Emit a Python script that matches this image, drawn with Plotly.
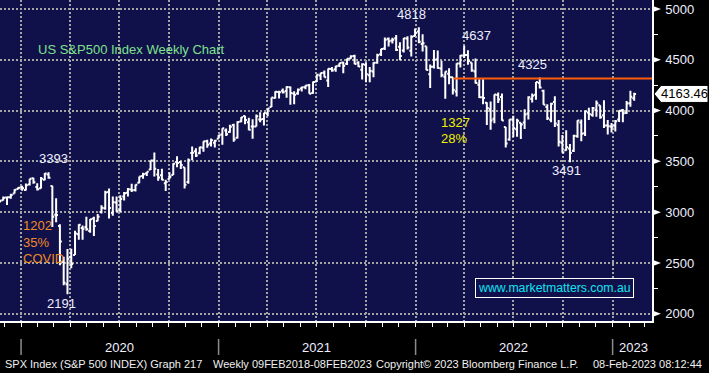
import pandas as pd
import plotly.graph_objects as go

# ---------------- data (weekly OHLC, week ending Friday) ----------------
first_week = "2019-11-22"

opens = [
    3123, 3117, 3144, 3146, 3183, 3227,
    3247, 3218, 3273, 3333, 3248, 3236, 3319, 3370, 3257, 2974, 2863, 2509, 2290, 2558, 2578, 2782, 2845, 2854,
    2815, 2937, 2914, 3001, 3038, 3199, 2994, 3094, 3018, 3155, 3191, 3224, 3219, 3289, 3356, 3380, 3419, 3508,
    3370, 3363, 3285, 3326, 3366, 3493, 3493, 3441, 3296, 3583, 3600, 3579, 3634, 3699, 3675, 3684,
    3723, 3764, 3803, 3788, 3857, 3732, 3892, 3947, 3885, 3842, 3844, 3913, 3916, 3969, 4034, 4124, 4182, 4194,
    4192, 4229, 4169, 4168, 4216, 4230, 4248, 4173, 4285, 4344, 4373, 4296, 4409, 4406, 4443, 4474, 4460, 4513,
    4536, 4474, 4402, 4450, 4348, 4385, 4471, 4554, 4610, 4707, 4689, 4712, 4628, 4592, 4710, 4588, 4734,
    4778, 4655, 4632, 4357, 4431, 4505, 4413, 4332, 4363, 4327, 4188, 4462, 4541, 4547, 4474, 4385, 4255, 4131,
    4077, 4013, 3920, 4153, 4134, 3838, 3715, 3913, 3815, 3880, 3883, 3972, 4113, 4155, 4270, 4195, 4034, 3910,
    4083, 3858, 3683, 3610, 3626, 3605, 3746, 3883, 3777, 3982, 3956, 4006, 4052, 3954, 3853, 3843,
    3854, 3911, 4002, 3979, 4071, 4120,
]
highs = [
    3127, 3154, 3155, 3182, 3226, 3248,
    3259, 3282, 3330, 3338, 3285, 3347, 3385, 3393, 3260, 3137, 2882, 2562, 2637, 2641, 2818, 2880, 2868, 2955,
    2933, 2955, 2981, 3068, 3212, 3233, 3155, 3155, 3166, 3198, 3238, 3280, 3272, 3352, 3387, 3399, 3509, 3588,
    3425, 3428, 3320, 3392, 3482, 3550, 3502, 3441, 3529, 3646, 3629, 3644, 3699, 3712, 3726, 3712,
    3760, 3827, 3823, 3861, 3870, 3894, 3937, 3950, 3928, 3915, 3960, 3983, 3978, 4020, 4129, 4191, 4195, 4218,
    4238, 4237, 4189, 4218, 4234, 4249, 4262, 4286, 4356, 4372, 4394, 4415, 4429, 4441, 4468, 4481, 4513, 4545,
    4549, 4486, 4466, 4475, 4429, 4475, 4559, 4608, 4718, 4718, 4717, 4743, 4672, 4713, 4732, 4740, 4808,
    4819, 4750, 4632, 4453, 4596, 4590, 4490, 4385, 4416, 4327, 4465, 4546, 4637, 4593, 4474, 4513, 4308, 4307,
    4081, 4090, 4158, 4178, 4168, 3838, 3914, 3950, 3919, 3880, 4013, 4140, 4167, 4280, 4325, 4204, 4062, 4076,
    4140, 3907, 3760, 3806, 3670, 3762, 3905, 3911, 3999, 4028, 4034, 4100, 4052, 4101, 3906, 3878,
    3906, 4004, 4015, 4094, 4195, 4176,
]
lows = [
    3091, 3115, 3070, 3132, 3183, 3226,
    3212, 3214, 3263, 3280, 3214, 3234, 3315, 3328, 2855, 2902, 2478, 2280, 2192, 2447, 2578, 2729, 2728, 2817,
    2798, 2766, 2910, 2988, 3025, 2937, 2966, 3004, 3001, 3115, 3153, 3199, 3204, 3284, 3328, 3355, 3414, 3350,
    3310, 3313, 3209, 3324, 3366, 3441, 3424, 3233, 3280, 3511, 3543, 3570, 3594, 3633, 3647, 3636,
    3723, 3663, 3750, 3781, 3694, 3725, 3885, 3865, 3805, 3723, 3844, 3885, 3853, 3944, 4034, 4118, 4118, 4167,
    4126, 4057, 4062, 4156, 4188, 4210, 4165, 4165, 4280, 4300, 4327, 4233, 4383, 4383, 4429, 4368, 4448, 4511,
    4456, 4428, 4306, 4279, 4278, 4329, 4460, 4538, 4595, 4630, 4659, 4585, 4495, 4572, 4600, 4531, 4733,
    4662, 4582, 4396, 4223, 4415, 4412, 4328, 4115, 4258, 4157, 4138, 4424, 4517, 4450, 4381, 4267, 4124, 4063,
    3859, 3811, 3875, 4074, 3900, 3637, 3702, 3739, 3742, 3721, 3818, 3911, 4079, 4107, 4218, 4057, 3907, 3886,
    3838, 3647, 3585, 3604, 3492, 3591, 3733, 3698, 3750, 3907, 3938, 3940, 3919, 3828, 3764, 3783,
    3794, 3887, 3886, 3966, 4037, 4097,
]
closes = [
    3110, 3141, 3146, 3169, 3221, 3240,
    3235, 3265, 3330, 3295, 3226, 3328, 3380, 3338, 2954, 2972, 2711, 2305, 2541, 2489, 2790, 2875, 2837, 2831,
    2930, 2864, 2955, 3044, 3194, 3041, 3098, 3009, 3130, 3185, 3225, 3216, 3271, 3351, 3373, 3397, 3508, 3427,
    3341, 3319, 3298, 3348, 3477, 3484, 3465, 3270, 3510, 3585, 3558, 3638, 3699, 3663, 3709, 3703,
    3756, 3825, 3768, 3841, 3714, 3887, 3934, 3907, 3811, 3842, 3943, 3913, 3975, 4020, 4129, 4185, 4180, 4181,
    4233, 4174, 4156, 4204, 4230, 4247, 4166, 4281, 4352, 4370, 4327, 4412, 4395, 4437, 4468, 4442, 4509, 4535,
    4459, 4433, 4455, 4357, 4391, 4471, 4545, 4605, 4697, 4683, 4698, 4595, 4538, 4712, 4620, 4726, 4766,
    4677, 4663, 4398, 4432, 4501, 4419, 4349, 4385, 4329, 4204, 4463, 4543, 4546, 4488, 4393, 4272, 4132, 4123,
    4024, 3901, 4158, 4109, 3901, 3675, 3912, 3825, 3899, 3863, 3962, 4130, 4145, 4280, 4228, 4058, 3924, 4067,
    3873, 3693, 3586, 3640, 3583, 3753, 3901, 3771, 3993, 3965, 4026, 4072, 3934, 3852, 3845, 3840,
    3895, 3999, 3973, 4070, 4136, 4163.46,
]

resistance_level = 4315
resistance_start = "2022-03-12"
y_ticks = [2000, 2500, 3000, 3500, 4000, 4500, 5000]
year_labels = ["2020", "2021", "2022", "2023"]
year_label_dates = ["2020-07-01", "2021-07-01", "2022-07-01", "2023-02-08"]
year_starts = ["2020-01-01", "2021-01-01", "2022-01-01", "2023-01-01"]
peak_labels = [("4818", 411, 14), ("4637", 476, 35), ("4325", 532, 64),
               ("3491", 566, 171), ("3393", 54, 158), ("2191", 61, 303)]
last_price = closes[-1]

dates = pd.date_range(first_week, periods=len(closes), freq="W-FRI")

# ---------------- geometry helpers ----------------
W, H = 709, 373
ML, MR, MT, MB = 0, 57, 0, 52
PW, PH = W - ML - MR, H - MT - MB
Y_RANGE = [1929, 5088]
upp = (Y_RANGE[1] - Y_RANGE[0]) / PH  # value units per pixel


def px(x):
    return (x - ML) / PW


def py(y):
    return 1 - (y - MT) / PH


FONT = "Liberation Sans, Arial, sans-serif"
BG = "#10104a"
GRID = "#a4a4a4"

fig = go.Figure(
    go.Ohlc(
        x=dates, open=opens, high=highs, low=lows, close=closes,
        increasing=dict(line=dict(color="white", width=2)),
        decreasing=dict(line=dict(color="white", width=2)),
        tickwidth=0.5, hoverinfo="skip", showlegend=False,
    )
)

shapes = []
# orange resistance line
shapes.append(dict(type="line", xref="x", yref="y", x0=resistance_start, x1="2023-03-15",
                   y0=resistance_level, y1=resistance_level,
                   line=dict(color="#ff5a0a", width=2)))
# tick triangles on right axis
tri_h = 3 * upp
for v in y_ticks:
    shapes.append(dict(type="path", xref="paper", yref="y",
                       path=f"M 1.0015,{v - tri_h} L {px(661)},{v} L 1.0015,{v + tri_h} Z",
                       fillcolor="white", line=dict(width=0)))
# last price box
bh = 8.5 * upp
lp = last_price
shapes.append(dict(type="path", xref="paper", yref="y",
                   path=(f"M {px(654)},{lp} L {px(661)},{lp + bh} L {px(708)},{lp + bh} "
                         f"L {px(708)},{lp - bh} L {px(661)},{lp - bh} Z"),
                   fillcolor="white", line=dict(color="black", width=1)))
# year separators
for d in year_starts:
    shapes.append(dict(type="line", xref="x", yref="paper", x0=d, x1=d,
                       y0=py(339), y1=py(355), line=dict(color="#8c8c8c", width=1.5)))

annotations = []
annotations.append(dict(text="US S&P500 Index Weekly Chart", xref="paper", yref="paper",
                        x=px(36), y=py(49), xanchor="left", yanchor="middle", showarrow=False,
                        font=dict(family=FONT, size=13, color="#7fe08c")))
for txt, xx, yy in peak_labels:
    annotations.append(dict(text=txt, xref="paper", yref="paper", x=px(xx), y=py(yy),
                            xanchor="center", yanchor="middle", showarrow=False,
                            font=dict(family=FONT, size=13, color="#eeeeff")))
for txt, yy in [("1327", 122), ("28%", 138)]:
    annotations.append(dict(text=txt, xref="paper", yref="paper", x=px(439), y=py(yy),
                            xanchor="left", yanchor="middle", showarrow=False,
                            font=dict(family=FONT, size=13, color="#f0f000")))
for txt, yy in [("1202", 225), ("35%", 242), ("COVID", 258)]:
    annotations.append(dict(text=txt, xref="paper", yref="paper", x=px(21), y=py(yy),
                            xanchor="left", yanchor="middle", showarrow=False,
                            font=dict(family=FONT, size=13, color="#f08a24")))
annotations.append(dict(text="www.marketmatters.com.au", xref="paper", yref="paper",
                        x=px(554), y=py(288), xanchor="center", yanchor="middle", showarrow=False,
                        bordercolor="white", borderwidth=1, borderpad=2, bgcolor=BG,
                        font=dict(family=FONT, size=12.3, color="#10e4f0")))
annotations.append(dict(text=f"{last_price:.2f}", xref="paper", yref="y",
                        x=px(684.5), y=last_price, xanchor="center", yanchor="middle", showarrow=False,
                        font=dict(family=FONT, size=13, color="black")))
for lab, d in zip(year_labels, year_label_dates):
    annotations.append(dict(text=lab, xref="x", yref="paper", x=d, y=py(348),
                            xanchor="center", yanchor="middle", showarrow=False,
                            font=dict(family=FONT, size=13, color="#f0f0ff")))
status = [("SPX Index (S&P 500 INDEX) Graph 217", 3),
          ("Weekly 09FEB2018-08FEB2023", 211),
          ("Copyright\u00a9 2023 Bloomberg Finance L.P.", 374),
          ("08-Feb-2023 08:12:44", 591)]
for txt, xx in status:
    annotations.append(dict(text=txt, xref="paper", yref="paper", x=px(xx), y=py(364),
                            xanchor="left", yanchor="middle", showarrow=False,
                            font=dict(family=FONT, size=11, color="#f0f0f0")))

fig.update_layout(
    width=W, height=H,
    margin=dict(l=ML, r=MR, t=MT, b=MB, pad=0),
    paper_bgcolor="black", plot_bgcolor=BG,
    showlegend=False,
    shapes=shapes, annotations=annotations,
    xaxis=dict(
        type="date", range=["2019-11-23", "2023-03-15"],
        rangeslider=dict(visible=False),
        showgrid=True, gridcolor=GRID, gridwidth=2, griddash="2px,2px",
        dtick="M3", tick0="2020-01-01",
        ticks="outside", ticklen=4, tickcolor="white", tickwidth=1,
        showticklabels=False, showline=True, linecolor="white", linewidth=1.5,
        zeroline=False,
        minor=dict(dtick="M1", ticks="outside", ticklen=4, tickcolor="white", tickwidth=1, showgrid=False),
    ),
    yaxis=dict(
        side="right", range=Y_RANGE,
        tickvals=y_ticks, ticktext=[str(v) for v in y_ticks],
        showgrid=True, gridcolor=GRID, gridwidth=2, griddash="2px,2px",
        ticks="outside", ticklen=9, tickcolor="rgba(0,0,0,0)",
        tickfont=dict(family=FONT, size=13, color="#eeeeff"),
        showline=True, linecolor="white", linewidth=1.5, zeroline=False,
        minor=dict(dtick=250, tick0=0, ticks="outside", ticklen=4, tickcolor="white", tickwidth=1,
                   showgrid=False),
    ),
)

fig.write_html(
    "out.html",
    config={"displayModeBar": False},
    post_script="document.body.style.margin='0';document.body.style.overflow='hidden';",
)
